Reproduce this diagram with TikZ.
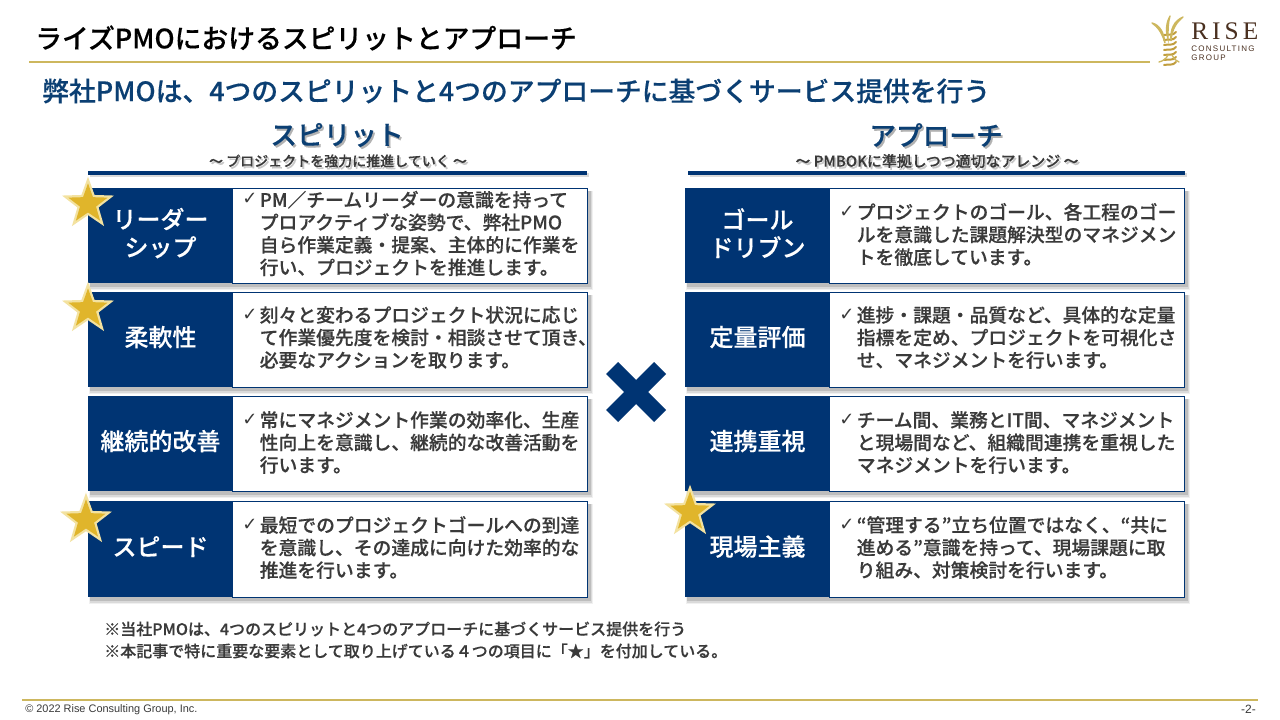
\documentclass[tikz,border=0pt]{standalone}
\usepackage{fontspec}
\usetikzlibrary{shapes.geometric}
\setmainfont{Noto Sans CJK JP}
\newfontfamily\jp[FakeBold=0.3]{Noto Sans CJK JP Medium}
\newfontfamily\chk{DejaVu Sans}
\newfontfamily\lat{Liberation Sans}
\newfontfamily\logoR[LetterSpace=16]{Liberation Serif}
\newfontfamily\logoS[LetterSpace=16]{Liberation Sans}
\definecolor{navy}{HTML}{003473}
\definecolor{subnavy}{HTML}{0B3F73}
\definecolor{gold}{HTML}{CDB75E}
\definecolor{stargold}{HTML}{E0B52B}
\definecolor{starglow}{HTML}{F3E2A0}
\definecolor{txt}{HTML}{3A3A3A}
\definecolor{brown}{HTML}{4A3020}
\newcommand{\fsz}[2]{\fontsize{#1}{#2}\selectfont}
\newcommand{\shtext}[2]{\rlap{\kern1.3pt\raisebox{-1.5pt}{\textcolor{#2}{#1}}}#1}
\newcommand{\softshadow}[4]{%
  \fill[black,opacity=.06] (#1+1,#2+3) rectangle (#3+5,#4+7);
  \fill[black,opacity=.09] (#1+2,#2+3) rectangle (#3+4,#4+5.5);
  \fill[black,opacity=.13] (#1+2,#2+3) rectangle (#3+2.5,#4+3.5);}
% name, left x, top y, bottom y, label, body, body centre y
\newcommand{\rowbox}[7]{%
  \softshadow{#2}{#3}{#2+500}{#4}
  \node[whitebox,minimum width=266pt,minimum height={(#4-#3)*0.75pt}] (#1R) at (#2+322,{(#3+#4)/2}) {};
  \node[navybox,minimum width=108.75pt,minimum height={(#4-#3)*0.75pt+.7pt}] (#1L) at (#2+72.5,{(#3+#4)/2}) {};
  \node[lab] (#1T) at ([yshift=1.8pt]#1L.center) {#5};
  \node[body] (#1B) at (#2+171.5,#7) {#6};
  \node[chkm,anchor=north west] (#1C) at ([xshift=-13pt,yshift=-2pt]#1B.north west) {✓};}
\newcommand{\gstar}[3]{%
  \node[star,star points=5,star point ratio=2.45,fill=starglow,minimum size=41pt,inner sep=0,rotate=#3] (#1g) at (#2) {};
  \node[star,star points=5,star point ratio=2.45,fill=stargold,minimum size=31pt,inner sep=0,rotate=#3] (#1) at (#2) {};}
\tikzset{
  navybox/.style={fill=navy,draw=none,inner sep=0},
  whitebox/.style={fill=white,draw=navy,line width=.7pt,inner sep=0},
  lab/.style={text=white,align=center,inner sep=0,font=\jp\fsz{18}{21}},
  body/.style={text=txt,align=left,anchor=west,inner sep=0,font=\jp\fsz{14.1}{16.9}},
  chkm/.style={text=txt,inner sep=0,font=\chk\fsz{13.5}{16}},
  head/.style={text=subnavy,inner sep=0,font=\jp\fsz{20}{24}},
  subh/.style={text=txt,inner sep=0,font=\jp\fsz{#1}{12}},
  subh/.default=10.5,
  foot/.style={text=txt,inner sep=0,anchor=west,font=\jp\fsz{12}{14}},
  rule/.style={draw=gold,line width=1.3pt},
  hrule/.style={draw=navy,line width=2.8pt},
  leaf/.style={draw=gold,line width=1pt,line cap=round},
}
\begin{document}
\begin{tikzpicture}[x=0.75pt,y=-0.75pt]
\useasboundingbox (0,0) rectangle (1280,720);
\fill[white] (0,0) rectangle (1280,720);

% title
\node[anchor=west,inner sep=0,text=black,font=\jp\fsz{20.1}{24}] (title) at (35,38) {ライズPMOにおけるスピリットとアプローチ};
\coordinate (tr1) at (29,62); \coordinate (tr2) at (1150,62);
\draw[rule] (tr1) -- (tr2);
\node[anchor=west,inner sep=0,text=subnavy,font=\jp\fsz{20.1}{24}] (subtitle) at (42,91) {弊社PMOは、4つのスピリットと4つのアプローチに基づくサービス提供を行う};

% logo
\begin{scope}[shift={(1150,15)}]
  \foreach \i in {0,...,6}{
    \draw[leaf,line width=1.5pt,draw=stargold!75!brown!90] (14,{20+\i*5}) .. controls (18,{19+\i*5}) and (23,{21+\i*5}) .. (26,{17+\i*5});}
  \draw[leaf,fill=gold] (2,8) .. controls (10,10) and (14,18) .. (15,28) .. controls (12,18) and (8,12) .. (2,8);
  \draw[leaf,fill=gold] (33,2) .. controls (24,6) and (20,14) .. (21,26) .. controls (22,14) and (26,8) .. (33,2);
  \draw[leaf,fill=gold] (20,1) .. controls (17,6) and (15,14) .. (18,24) .. controls (18,14) and (18,8) .. (20,1);
  \draw[leaf] (9,47) .. controls (13,46) and (16,44) .. (18,40);
  \draw[leaf] (29,47) .. controls (26,46) and (24,44) .. (22,40);
\end{scope}
\node[anchor=west,inner sep=0,text=brown,font=\logoR\fsz{19}{20}] (rise) at (1191,31) {RISE};
\node[anchor=west,inner sep=0,text=brown,font=\logoS\fsz{6}{7}] (cons) at (1191,49) {CONSULTING};
\node[anchor=west,inner sep=0,text=brown,font=\logoS\fsz{6}{7}] (grp) at (1191,58) {GROUP};

% column heads
\node[head] (hl) at (337,136) {\shtext{スピリット}{black!30}};
\node[subh] (shl) at (338,162) {\shtext{〜 プロジェクトを強力に推進していく 〜}{black!22}};
\fill[black,opacity=.15] (90,173) rectangle (589,177.5);
\coordinate (hl1) at (88,173); \coordinate (hl2) at (587,173);
\draw[hrule] (hl1) -- (hl2);
\node[head] (hr) at (936,136) {\shtext{アプローチ}{black!30}};
\node[subh=11.2] (shr) at (937,162) {\shtext{〜 PMBOKに準拠しつつ適切なアレンジ 〜}{black!22}};
\fill[black,opacity=.15] (690,173) rectangle (1187,177.5);
\coordinate (hr1) at (688,173); \coordinate (hr2) at (1185,173);
\draw[hrule] (hr1) -- (hr2);

% left rows
\rowbox{a}{88}{188}{283}{リーダー\\シップ}{PM／チームリーダーの意識を持って\\プロアクティブな姿勢で、弊社PMO\\自ら作業定義・提案、主体的に作業を\\行い、プロジェクトを推進します。}{233.5}
\rowbox{b}{88}{292}{387}{柔軟性}{刻々と変わるプロジェクト状況に応じ\\て作業優先度を検討・相談させて頂き、\\必要なアクションを取ります。}{337.5}
\rowbox{c}{88}{396}{491}{継続的改善}{常にマネジメント作業の効率化、生産\\性向上を意識し、継続的な改善活動を\\行います。}{442.5}
\rowbox{d}{88}{501}{597}{スピード}{最短でのプロジェクトゴールへの到達\\を意識し、その達成に向けた効率的な\\推進を行います。}{547.5}

% right rows
\rowbox{e}{685}{188}{283}{ゴール\\ドリブン}{プロジェクトのゴール、各工程のゴー\\ルを意識した課題解決型のマネジメン\\トを徹底しています。}{234.5}
\rowbox{f}{685}{292}{387}{定量評価}{進捗・課題・品質など、具体的な定量\\指標を定め、プロジェクトを可視化さ\\せ、マネジメントを行います。}{337.5}
\rowbox{g}{685}{396}{491}{連携重視}{チーム間、業務とIT間、マネジメント\\と現場間など、組織間連携を重視した\\マネジメントを行います。}{442.5}
\rowbox{h}{685}{501}{597}{現場主義}{“管理する”立ち位置ではなく、“共に\\進める”意識を持って、現場課題に取\\り組み、対策検討を行います。}{547.5}

% cross
\fill[navy] (606,374) -- (618,362) -- (636,380) -- (654,362) -- (666,374) -- (648,392) -- (666,410) -- (654,422) -- (636,404) -- (618,422) -- (606,410) -- (624,392) -- cycle;

% stars
\gstar{s1}{88,204}{0}
\gstar{s2}{88,309}{0}
\gstar{s3}{86,520}{0}
\gstar{s4}{690,512}{0}

% notes
\node[foot] (n1) at (104,629) {※当社PMOは、4つのスピリットと4つのアプローチに基づくサービス提供を行う};
\node[foot] (n2) at (104,651) {※本記事で特に重要な要素として取り上げている４つの項目に「★」を付加している。};

% footer
\coordinate (fr1) at (22,700); \coordinate (fr2) at (1258,700);
\draw[rule] (fr1) -- (fr2);
\node[anchor=west,inner sep=0,text=txt,font=\lat\fsz{8.2}{9}] (copy) at (25,710) {© 2022 Rise Consulting Group, Inc.};
\node[anchor=east,inner sep=0,text=txt,font=\lat\fsz{9}{10}] (pg) at (1256,709) {-2-};
\end{tikzpicture}
\end{document}
